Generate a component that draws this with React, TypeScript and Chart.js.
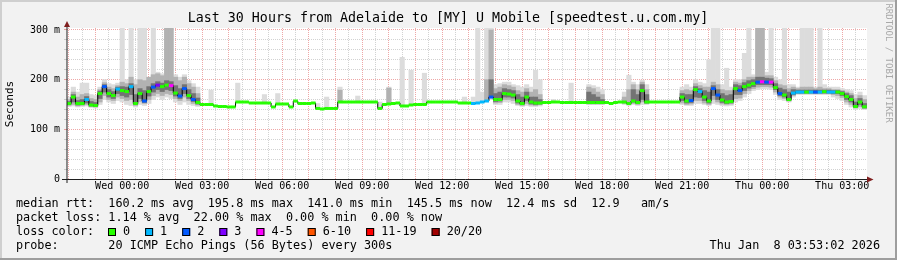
import React, { useEffect, useRef } from 'react';
import { Chart, registerables } from 'chart.js';

Chart.register(...registerables);

const N = null;

const TITLE = 'Last 30 Hours from Adelaide to [MY] U Mobile [speedtest.u.com.my]';
const Y_TITLE = 'Seconds';
const WATERMARK = 'RRDTOOL / TOBI OETIKER';

// time axis in hours relative to Wed 00:00
const START_HOUR = -2.0;
const STEP_HOURS = 1 / 6;
const X_MIN = -2.07;
const X_MAX = 27.93;
const Y_MIN = 0;
const Y_MAX = 304;

const xTickHours = [0, 3, 6, 9, 12, 15, 18, 21, 24, 27];
const xTickLabels = ['Wed 00:00', 'Wed 03:00', 'Wed 06:00', 'Wed 09:00', 'Wed 12:00', 'Wed 15:00', 'Wed 18:00', 'Wed 21:00', 'Thu 00:00', 'Thu 03:00'];
const yTickValues = [0, 100, 200, 300];
const yTickLabels = ['0', '100 m', '200 m', '300 m'];

const lossLabels = ['0', '1', '2', '3', '4-5', '6-10', '11-19', '20/20'];
const lossColors = ['#26ff00', '#00b8ff', '#0059ff', '#7e00ff', '#ff00ff', '#ff5500', '#ff0000', '#a10000'];

const statLines = [
  'median rtt:  160.2 ms avg  195.8 ms max  141.0 ms min  145.5 ms now  12.4 ms sd  12.9   am/s',
  'packet loss: 1.14 % avg  22.00 % max  0.00 % min  0.00 % now',
];
const lossLegendTitle = 'loss color:';
const probeLine = 'probe:       20 ICMP Echo Pings (56 Bytes) every 300s';
const dateLine = 'Thu Jan  8 03:53:02 2026';

// median rtt (ms), one value per 10 minutes
const median = [
  152, 165, 152, 152, 160, 149, 148, 172, 186, 172,
  168, 181, 178, 176, 186, 152, 172, 157, 176, 185,
  189, 186, 189, 188, 173, 167, 182, 168, 160, 154,
  150, 150, 150, 147, 146, 146, 145, 145, 155, 155,
  155, 153, 153, 153, 153, 153, 145, 151, 151, 151,
  145, 157, 152, 152, 152, 153, 142, 141, 142, 142,
  142, 155, 155, 155, 155, 155, 155, 155, 155, 155,
  142, 150, 151, 152, 153, 147, 147, 149, 150, 150,
  150, 155, 155, 155, 155, 155, 155, 155, 153, 153,
  153, 152, 153, 155, 157, 165, 160, 160, 172, 171,
  169, 157, 152, 165, 155, 153, 153, 154, 154, 155,
  155, 154, 154, 154, 154, 154, 154, 154, 154, 154,
  154, 154, 152, 154, 155, 155, 152, 157, 154, 178,
  155, 155, 155, 155, 155, 155, 155, 155, 165, 157,
  158, 180, 176, 165, 157, 182, 169, 159, 155, 156,
  182, 178, 186, 189, 192, 195, 195.8, 195, 195, 184,
  172, 169, 160, 173, 175, 175, 175, 175, 175, 175,
  176, 175, 175, 175, 172, 166, 160, 146, 155, 145.5,
];

// loss colour class per sample (index into lossLabels)
const loss = [
  0, 0, 0, 0, 1, 0, 0, 0, 2, 0,
  0, 1, 0, 0, 1, 0, 0, 2, 0, 2,
  3, 0, 0, 4, 0, 2, 2, 0, 2, 0,
  0, 0, 0, 0, 0, 0, 0, 0, 0, 0,
  0, 0, 0, 0, 0, 0, 0, 0, 0, 0,
  0, 0, 0, 0, 0, 0, 0, 0, 0, 0,
  0, 0, 0, 0, 0, 0, 0, 0, 0, 0,
  0, 0, 0, 0, 0, 0, 0, 0, 0, 0,
  0, 0, 0, 0, 0, 0, 0, 0, 0, 0,
  0, 1, 1, 1, 1, 2, 0, 0, 0, 0,
  0, 0, 0, 0, 0, 0, 0, 0, 0, 0,
  0, 0, 0, 0, 0, 0, 0, 0, 0, 0,
  0, 0, 0, 0, 0, 0, 0, 0, 0, 0,
  0, 0, 0, 0, 0, 0, 0, 0, 0, 0,
  2, 0, 1, 0, 0, 2, 2, 0, 0, 0,
  0, 2, 0, 0, 0, 2, 4, 2, 4, 0,
  2, 0, 0, 1, 1, 1, 0, 1, 2, 1,
  0, 1, 1, 0, 0, 0, 0, 0, 0, 0,
];

// smoke: outer (all pings) range
const smokeOuter = [
  [146, 165], [147, 185], [145, 175], [146, 193], [147, 193], [144, 170], [143, 168], [150, 185], [160, 200], [155, 192],
  [152, 190], [158, 193], [155, 310], [150, 200], [148, 310], [145, 200], [150, 310], [148, 310], [152, 200], [160, 310],
  [165, 215], [160, 212], [165, 310], [162, 310], [155, 210], [150, 205], [155, 210], [150, 198], [148, 192], [146, 185],
  N, N, [150, 179], N, N, N, N, N, [155, 193], N,
  N, N, N, N, [153, 170], N, N, [151, 172], N, N,
  N, N, N, N, N, N, [142, 152], N, [142, 165], N,
  N, [155, 185], N, N, N, [155, 167], N, N, N, N,
  [142, 155], N, [151, 185], N, N, [147, 245], N, [149, 219], N, N,
  [150, 213], N, N, N, N, N, N, N, N, [153, 165],
  N, [152, 165], [153, 310], [155, 175], [157, 310], [160, 310], [150, 190], [150, 192], [155, 195], [155, 195],
  [152, 190], [148, 188], [146, 185], [148, 190], [146, 185], [146, 219], [147, 200], N, N, [154, 160],
  N, N, N, [154, 193], N, N, N, [150, 190], [150, 188], [150, 185],
  [150, 180], N, N, N, N, [150, 175], [148, 209], [150, 195], [148, 190], [150, 199],
  [150, 190], N, N, N, N, N, N, N, [150, 185], [148, 190],
  [148, 185], [152, 200], [152, 195], [150, 192], [148, 240], [152, 310], [150, 310], [148, 190], [147, 223], [148, 185],
  [155, 200], [158, 200], [165, 253], [172, 310], [178, 210], [180, 310], [182, 310], [182, 215], [180, 310], [170, 205],
  [160, 200], [158, 310], [155, 190], [165, 190], [170, 185], [170, 310], [170, 310], [170, 310], [170, 185], [170, 310],
  [170, 190], [170, 185], [165, 185], [162, 185], [158, 182], [150, 180], [145, 178], [140, 170], [142, 175], [140, 168],
];

// smoke: middle pings range
const smokeMid = [
  [148, 160], [150, 175], [147, 165], [148, 170], [150, 172], [146, 162], [145, 160], [155, 180], [168, 194], [160, 185],
  [158, 182], [165, 188], [162, 195], [158, 192], [160, 205], [148, 190], [156, 200], [152, 198], [160, 205], [168, 210],
  [172, 212], [168, 208], [172, 310], [170, 310], [162, 205], [158, 198], [165, 205], [158, 192], [152, 185], [149, 172],
  N, N, N, N, N, N, N, N, N, N,
  N, N, N, N, N, N, N, N, N, N,
  N, N, N, N, N, N, N, N, N, N,
  N, [155, 179], N, N, N, N, N, N, N, N,
  N, N, [151, 183], N, N, N, N, N, N, N,
  N, N, N, N, N, N, N, N, N, N,
  N, N, N, N, [160, 200], [165, 300], [153, 182], [154, 185], [160, 190], [160, 188],
  [158, 185], [150, 178], [148, 175], [152, 182], [149, 175], [148, 180], [150, 170], N, N, N,
  N, N, N, N, N, N, N, [151, 185], [151, 182], [151, 175],
  [151, 170], N, N, N, N, [152, 165], [150, 180], [152, 190], [150, 180], [155, 195],
  [152, 180], N, N, N, N, N, N, N, [153, 178], [150, 180],
  [151, 178], [158, 192], [158, 188], [153, 185], [150, 185], [160, 195], [155, 190], [151, 180], [150, 178], [151, 178],
  [162, 195], [163, 193], [172, 200], [178, 205], [182, 205], [185, 310], [186, 310], [186, 208], [185, 208], [175, 198],
  [165, 190], [162, 188], [157, 182], [168, 185], [172, 182], [172, 185], [172, 185], [172, 185], [172, 182], [172, 185],
  [172, 182], [172, 182], [170, 180], [168, 180], [164, 178], [155, 175], [150, 172], [143, 162], [146, 168], [142, 160],
];

// smoke: pings closest to the median
const smokeDark = [
  [150, 156], [155, 170], [149, 158], [150, 160], [153, 166], [147, 156], [146, 154], [162, 177], [175, 190], [165, 180],
  [162, 176], [172, 185], [168, 186], [165, 185], [170, 192], [150, 170], [162, 182], [154, 178], [167, 186], [175, 192],
  [180, 196], [176, 193], [180, 198], [178, 196], [167, 188], [162, 182], [172, 190], [162, 180], [156, 172], [151, 163],
  N, N, N, N, N, N, N, N, N, N,
  N, N, N, N, N, N, N, N, N, N,
  N, N, N, N, N, N, N, N, N, N,
  N, N, N, N, N, N, N, N, N, N,
  N, N, N, N, N, N, N, N, N, N,
  N, N, N, N, N, N, N, N, N, N,
  N, N, N, N, N, [165, 200], [156, 172], [157, 175], [165, 182], [165, 180],
  [163, 178], [153, 170], [150, 165], [158, 175], [151, 165], [150, 165], [151, 160], N, N, N,
  N, N, N, N, N, N, N, [152, 175], [152, 170], [152, 165],
  [152, 160], N, N, N, N, N, N, [155, 180], [152, 170], [160, 190],
  [153, 170], N, N, N, N, N, N, N, [158, 172], [153, 170],
  [154, 170], [165, 186], [164, 182], [158, 178], [153, 175], [168, 188], [160, 180], [154, 172], [152, 168], [153, 170],
  [170, 190], [170, 188], [178, 194], [183, 198], [186, 200], [190, 205], [190, 205], [190, 203], [190, 202], [180, 192],
  [168, 183], [165, 180], [158, 175], [170, 180], [173, 179], [173, 179], [173, 179], [173, 179], [173, 179], [173, 179],
  [173, 179], [173, 179], [172, 178], [172, 178], [168, 176], [160, 172], [155, 168], [144, 155], [150, 162], [143, 152],
];

const FONT = '"DejaVu Sans Mono", monospace';
const MAJOR = 'rgba(222,79,79,0.5)';
const MINOR = 'rgba(143,143,143,0.4)';

const times = median.map((_, i) => START_HOUR + i * STEP_HOURS);
const toBars = (arr: any[]) =>
  arr.map((r, i) => (r ? { x: times[i], y: r } : null)).filter((p) => p !== null);

const rrdPlugin = {
  id: 'rrdFrame',
  beforeDraw(chart: any) {
    const { ctx, chartArea: a, width, height } = chart;
    ctx.save();
    ctx.fillStyle = '#f2f2f2';
    ctx.fillRect(0, 0, width, height);
    ctx.fillStyle = '#cfcfcf';
    ctx.fillRect(0, 0, width, 2);
    ctx.fillRect(0, 0, 2, height);
    ctx.fillStyle = '#9e9e9e';
    ctx.fillRect(0, height - 2, width, 2);
    ctx.fillRect(width - 2, 0, 2, height);
    ctx.fillStyle = '#ffffff';
    ctx.fillRect(a.left, a.top, a.right - a.left, a.bottom - a.top);
    ctx.restore();
  },
  afterDraw(chart: any) {
    const { ctx, chartArea: a } = chart;
    ctx.save();
    // axes
    ctx.strokeStyle = '#1f1f1f';
    ctx.lineWidth = 1;
    ctx.beginPath();
    ctx.moveTo(a.left - 5, a.bottom + 0.5);
    ctx.lineTo(a.right + 2, a.bottom + 0.5);
    ctx.stroke();
    ctx.beginPath();
    ctx.moveTo(a.left, a.bottom + 4);
    ctx.lineTo(a.left, a.top - 2);
    ctx.stroke();
    ctx.fillStyle = '#801f1f';
    ctx.beginPath();
    ctx.moveTo(a.right, a.bottom - 2.5);
    ctx.lineTo(a.right + 6.5, a.bottom + 0.5);
    ctx.lineTo(a.right, a.bottom + 3.5);
    ctx.closePath();
    ctx.fill();
    ctx.beginPath();
    ctx.moveTo(a.left - 3, a.top - 1);
    ctx.lineTo(a.left, a.top - 7);
    ctx.lineTo(a.left + 3, a.top - 1);
    ctx.closePath();
    ctx.fill();

    // title
    ctx.fillStyle = '#000';
    ctx.textBaseline = 'middle';
    ctx.textAlign = 'center';
    ctx.font = `13.3px ${FONT}`;
    ctx.fillText(TITLE, 448, 19);

    // y title
    ctx.save();
    ctx.translate(10.5, 104);
    ctx.rotate(-Math.PI / 2);
    ctx.font = `11px ${FONT}`;
    ctx.fillText(Y_TITLE, 0, 0);
    ctx.restore();

    // watermark
    ctx.save();
    ctx.translate(888, 63);
    ctx.rotate(Math.PI / 2);
    ctx.font = `9px ${FONT}`;
    ctx.fillStyle = '#a8a8a8';
    ctx.fillText(WATERMARK, 0, 0);
    ctx.restore();

    // legend
    ctx.textAlign = 'left';
    ctx.font = `11.8px ${FONT}`;
    ctx.fillStyle = '#000';
    ctx.fillText(statLines[0], 16, 204);
    ctx.fillText(statLines[1], 16, 218);
    ctx.fillText(lossLegendTitle, 16, 232);
    let x = 108;
    lossLabels.forEach((lab, k) => {
      ctx.fillStyle = lossColors[k];
      ctx.fillRect(x, 228, 8, 8);
      ctx.strokeStyle = '#000';
      ctx.lineWidth = 1;
      ctx.strokeRect(x + 0.5, 228.5, 7, 7);
      ctx.fillStyle = '#000';
      ctx.fillText(lab, x + 15, 232);
      x = x + 15 + ctx.measureText(lab).width + 15;
    });
    ctx.fillText(probeLine, 16, 246);
    ctx.textAlign = 'right';
    ctx.fillText(dateLine, 880, 246);
    ctx.restore();
  },
};

const barDs = (data: any[], color: string, order: number) => ({
  type: 'bar' as const,
  data: toBars(data),
  backgroundColor: color,
  borderWidth: 0,
  grouped: false,
  barPercentage: 1,
  categoryPercentage: 1,
  order,
});

export default function App() {
  const ref = useRef<HTMLCanvasElement | null>(null);

  useEffect(() => {
    if (!ref.current) return;
    const chart = new Chart(ref.current, {
      type: 'bar',
      data: {
        datasets: [
          barDs(smokeOuter, 'rgb(220,220,220)', 3),
          barDs(smokeMid, 'rgb(178,178,178)', 2),
          barDs(smokeDark, 'rgb(115,115,115)', 1),
          {
            type: 'line',
            data: median.map((v, i) => ({ x: times[i], y: v })),
            stepped: 'middle',
            borderColor: '#000',
            borderWidth: 1,
            pointStyle: 'line',
            pointRadius: 2.3,
            pointHoverRadius: 2.3,
            pointBorderWidth: 3,
            pointBorderColor: (c: any) => lossColors[loss[c.dataIndex]] || lossColors[0],
            pointBackgroundColor: (c: any) => lossColors[loss[c.dataIndex]] || lossColors[0],
            order: 0,
          } as any,
        ],
      },
      options: {
        animation: false,
        responsive: false,
        devicePixelRatio: 1,
        events: [],
        layout: { padding: { left: 0, right: 30, top: 28, bottom: 61 } },
        plugins: { legend: { display: false }, tooltip: { enabled: false }, title: { display: false } },
        scales: {
          x: {
            type: 'linear',
            min: X_MIN,
            max: X_MAX,
            offset: false,
            afterBuildTicks: (scale: any) => {
              const t = [];
              for (let h = -2; h <= 27.5; h += 0.5) t.push({ value: h });
              scale.ticks = t;
            },
            afterFit: (scale: any) => {
              scale.height = 20;
            },
            grid: {
              offset: false,
              drawTicks: false,
              lineWidth: 1,
              color: (c: any) => (c.tick && Number.isInteger(c.tick.value) ? MAJOR : MINOR),
            },
            border: { display: false, dash: [1, 1] },
            ticks: {
              autoSkip: false,
              maxRotation: 0,
              minRotation: 0,
              padding: 1,
              color: '#000',
              font: { family: 'DejaVu Sans Mono', size: 10 },
              callback: (v: any) => {
                const k = xTickHours.indexOf(Number(v));
                return k >= 0 ? xTickLabels[k] : '';
              },
            },
          },
          y: {
            type: 'linear',
            min: Y_MIN,
            max: Y_MAX,
            afterBuildTicks: (scale: any) => {
              const t = [];
              for (let v = 0; v <= 300; v += 20) t.push({ value: v });
              scale.ticks = t;
            },
            afterFit: (scale: any) => {
              scale.width = 67;
            },
            grid: {
              drawTicks: true,
              tickLength: 3,
              lineWidth: 1,
              color: (c: any) => (c.tick && c.tick.value % 100 === 0 ? MAJOR : MINOR),
            },
            border: { display: false, dash: [1, 1] },
            ticks: {
              autoSkip: false,
              padding: 4,
              color: '#000',
              font: { family: 'DejaVu Sans Mono', size: 10 },
              callback: (v: any) => {
                const k = yTickValues.indexOf(Number(v));
                return k >= 0 ? yTickLabels[k] : '';
              },
            },
          },
        },
      } as any,
      plugins: [rrdPlugin],
    });
    return () => chart.destroy();
  }, []);

  return (
    <div style={{ position: 'fixed', left: 0, top: 0, width: 897, height: 260 }}>
      <canvas ref={ref} width={897} height={260} style={{ display: 'block', width: 897, height: 260 }} />
    </div>
  );
}
